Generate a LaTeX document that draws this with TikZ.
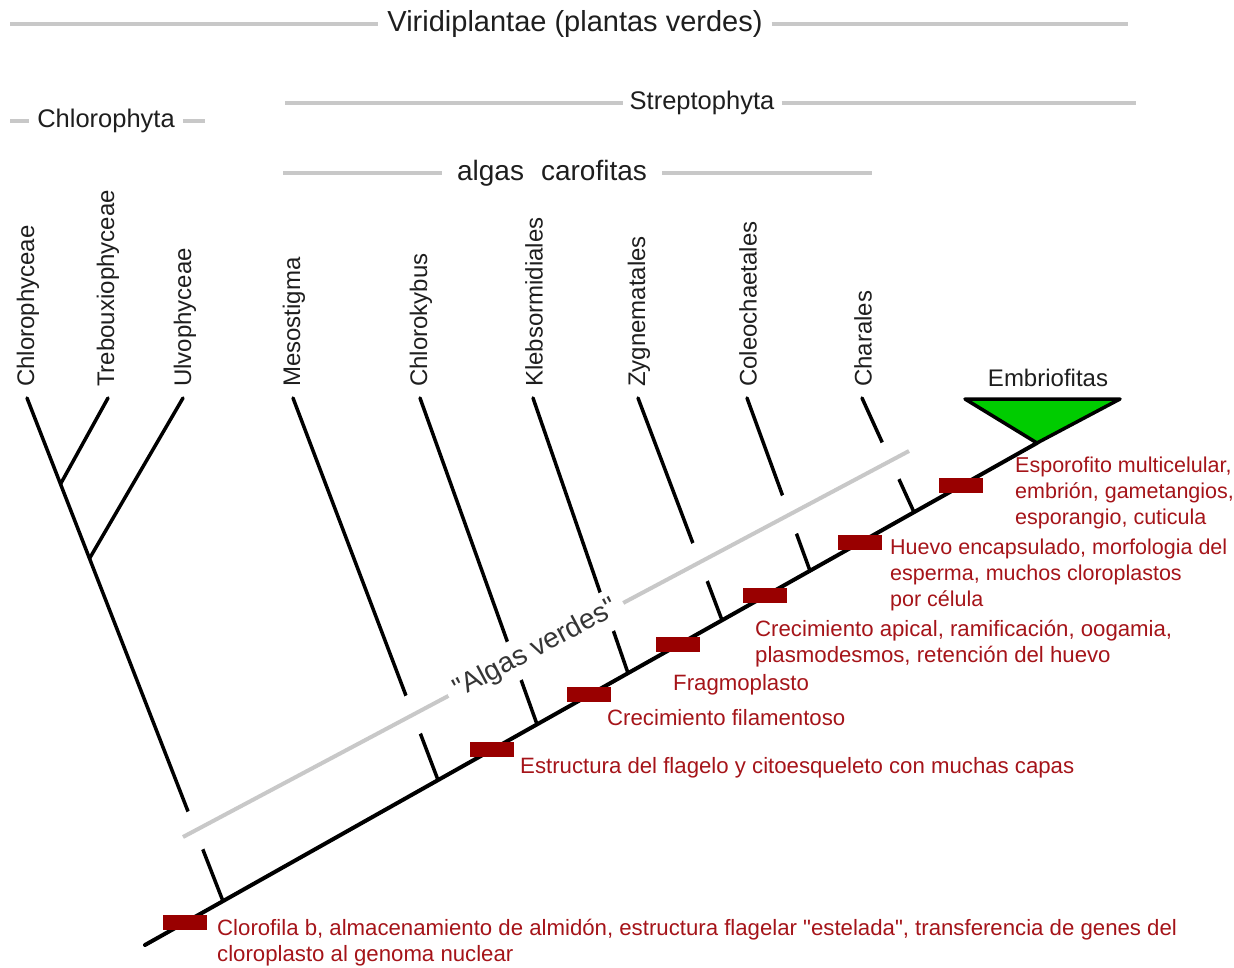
\documentclass[tikz,border=0pt]{standalone}
\usepackage{fontspec}
\setmainfont{Liberation Sans}
\usetikzlibrary{calc,positioning}

\definecolor{cladegray}{RGB}{200,200,200}
\definecolor{inkgray}{RGB}{30,30,30}
\definecolor{markred}{RGB}{153,0,0}
\definecolor{notered}{RGB}{165,20,25}
\definecolor{embgreen}{RGB}{0,204,0}

\tikzset{
  branch/.style={line width=3.5pt,line cap=round},
  grpline/.style={draw=cladegray,line width=3.5pt},
  grplabel/.style={text=inkgray,inner ysep=0pt,inner xsep=9pt,font=\fontsize{25.5}{27}\selectfont},
  taxon/.style={text=inkgray,rotate=90,anchor=west,inner sep=0pt,font=\fontsize{24}{26}\selectfont},
  synbox/.style={fill=markred,minimum width=44pt,minimum height=15pt,inner sep=0pt},
  note/.style={text=notered,anchor=north west,align=left,inner sep=0pt,font=\fontsize{22.2}{25.8}\selectfont}
}

\begin{document}
\begin{tikzpicture}[x=1pt,y=-1pt]
\useasboundingbox (0,0) rectangle (1234,968);

% group bars
\node[grplabel,font=\fontsize{29}{30}\selectfont] (viri) at (575,24) {Viridiplantae (plantas verdes)};
\coordinate (viriL) at (10,24);
\coordinate (viriR) at (1128,24);
\draw[grpline] (viriL) -- (viri.west) (viri.east) -- (viriR);

\node[grplabel,inner xsep=7pt] (strep) at (702,103) {Streptophyta};
\coordinate (strepL) at (285,103);
\coordinate (strepR) at (1136,103);
\draw[grpline] (strepL) -- (strep.west) (strep.east) -- (strepR);

\node[grplabel,inner xsep=8pt] (chloro) at (106,121) {Chlorophyta};
\coordinate (chloroL) at (10,121);
\coordinate (chloroR) at (205,121);
\draw[grpline] (chloroL) -- (chloro.west) (chloro.east) -- (chloroR);

\node[grplabel,inner xsep=15pt,font=\fontsize{28}{30}\selectfont] (caro) at (552,173) {algas\hspace{17pt}carofitas};
\coordinate (caroL) at (283,173);
\coordinate (caroR) at (872,173);
\draw[grpline] (caroL) -- (caro.west) (caro.east) -- (caroR);

% spine
\coordinate (root) at (145,945);
\coordinate (emb) at (1037,443);

% Chlorophyta
\node[taxon] (chlph) at (28,387) {Chlorophyceae};
\node[taxon] (treb) at (108,387) {Trebouxiophyceae};
\node[taxon] (ulvo) at (185,387) {Ulvophyceae};
\coordinate (ct) at (27,398);
\coordinate (tt) at (108,398);
\coordinate (ut) at (183,398);
\coordinate (cj) at ($(root)!0.0874!(emb)$);
\coordinate (tj) at ($(ct)!0.171!(cj)$);
\coordinate (uj) at ($(ct)!0.319!(cj)$);
\draw[branch] (ct) -- (cj);
\draw[branch] (tt) -- (tj);
\draw[branch] (ut) -- (uj);

% Streptophyta
\foreach \name/\tx/\t [count=\n] in {Mesostigma/293/0.3285,Chlorokybus/420/0.4395,Klebsormidiales/533/0.5415,Zygnematales/638/0.6469,Coleochaetales/747/0.7455,Charales/862/0.8621}{
  \node[taxon] (L\n) at (\tx+1,387) {\name};
  \coordinate (T\n) at (\tx,398);
  \coordinate (J\n) at ($(root)!\t!(emb)$);
  \draw[branch] (T\n) -- (J\n);
}

% "Algas verdes"
\coordinate (gl) at (183,837);
\coordinate (gr) at (909,451);
\draw[cladegray,line width=4pt,preaction={draw=white,line width=40pt}] (gl) -- (gr)
  node[pos=0.486,sloped,fill=white,text=inkgray!90,inner xsep=8pt,inner ysep=2pt,font=\fontsize{28}{29}\selectfont] (algas) {\textquotedbl Algas verdes\textquotedbl};

\draw[line width=4pt,line cap=round] (root) -- (emb);

% Embriofitas
\coordinate (embl) at (965,399);
\coordinate (embr) at (1120,399);
\coordinate (embtop) at (1048,399);
\draw[line width=3.5pt,fill=embgreen,line join=round] (embl) -- (embr) -- (emb) -- cycle;
\node[text=inkgray,inner sep=0pt,above=12pt of embtop,font=\fontsize{24}{26}\selectfont] (embname) {Embriofitas};

% synapomorphies
\foreach \t [count=\n] in {0.0448,0.389,0.4983,0.598,0.6956,0.8016,0.9148}
  \node[synbox] (S\n) at ($(root)!\t!(emb)$) {};

\node[note] (N1) at (217,919) {Clorofila b, almacenamiento de almidón, estructura flagelar \textquotedbl estelada\textquotedbl, transferencia de genes del\\cloroplasto al genoma nuclear};
\node[note] (N2) at (520,757) {Estructura del flagelo y citoesqueleto con muchas capas};
\node[note] (N3) at (607,709) {Crecimiento filamentoso};
\node[note] (N4) at (673,674) {Fragmoplasto};
\node[note] (N5) at (755,620) {Crecimiento apical, ramificación, oogamia,\\plasmodesmos, retención del huevo};
\node[note,font=\fontsize{21.5}{25.8}\selectfont] (N6) at (890,539) {Huevo encapsulado, morfologia del\\esperma, muchos cloroplastos\\por célula};
\node[note,font=\fontsize{21.5}{25.8}\selectfont] (N7) at (1015,457) {Esporofito multicelular,\\embrión, gametangios,\\esporangio, cuticula};
\end{tikzpicture}
\end{document}
